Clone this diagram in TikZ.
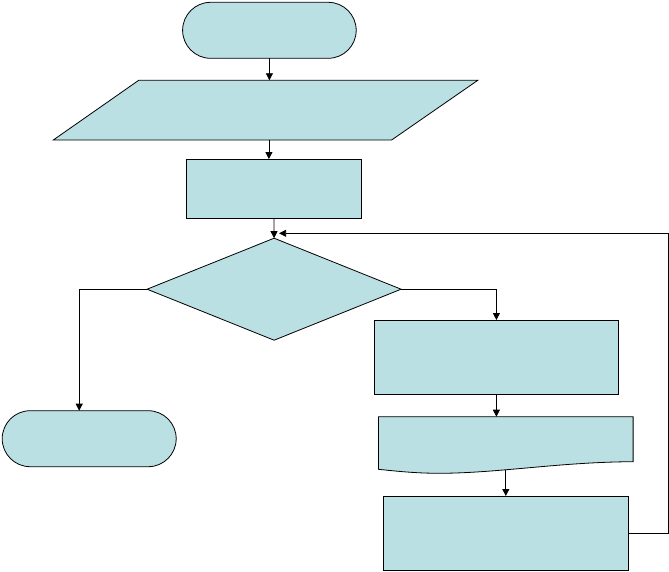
\documentclass[tikz,border=0pt]{standalone}
\usetikzlibrary{shapes.geometric,shapes.misc,arrows.meta}
\definecolor{boxfill}{RGB}{187,224,227}
\tikzset{
  base/.style={draw=black, fill=boxfill, line width=0.8pt, inner sep=0pt, outer sep=0pt},
  terminal/.style={base, rounded rectangle},
  procbox/.style={base, rectangle},
  decbox/.style={base, diamond},
  anchorbox/.style={rectangle, inner sep=0pt, outer sep=0pt},
  shapeline/.style={draw=black, fill=boxfill, line width=0.8pt},
  arr/.style={line width=0.8pt, -{Triangle[length=7pt,width=7pt]}},
  plainline/.style={line width=0.8pt}
}
\begin{document}
\begin{tikzpicture}[x=1pt,y=-1pt]
\useasboundingbox (0,0) rectangle (669,571);
\node[terminal, minimum width=173.6pt, minimum height=56pt] (start) at (269.4,30.3) {};
% parallelogram
\node[anchorbox, minimum width=424.5pt, minimum height=59.7pt] (para) at (265.55,110.15) {};
\path[shapeline] (138.7,80.3) -- (477.8,80.3) -- (391.6,140) -- (53.3,140) -- cycle;
\node[procbox, minimum width=175.8pt, minimum height=59.7pt] (p1) at (273.9,188.9) {};
\node[decbox, minimum width=254pt, minimum height=102pt] (dec) at (274.1,289.2) {};
\node[terminal, minimum width=174pt, minimum height=56pt] (end) at (89.2,438.7) {};
\node[procbox, minimum width=244.5pt, minimum height=74pt] (p2) at (496.4,357) {};
% document shape
\node[anchorbox, minimum width=254.7pt, minimum height=52.6pt] (doc) at (505.75,443) {};
\path[shapeline] (doc.north west) -- (doc.north east) -- (633.1,461.7)
  .. controls (560,462) and (500,473) .. (440,473.3)
  .. controls (415,473.3) and (395,471) .. (doc.south west) -- cycle;
\node[procbox, minimum width=244.5pt, minimum height=74pt] (p3) at (505.8,533) {};
\coordinate (join) at (274.1,233.3);
% connectors
\draw[arr] (start.south) -- (start.south |- para.north);
\draw[arr] ([xshift=-5pt]p1.north |- para.south) -- ([xshift=-5pt]p1.north);
\draw[arr] (p1.south) -- (dec.north);
\draw[arr] (dec.west) -| ([xshift=-10pt]end.north);
\draw[arr] (dec.east) -| (p2.north);
\draw[arr] (p2.south) -- (p2.south |- doc.north);
\draw[arr] (p3.north |- 0,470) -- (p3.north);
\draw[arr] (p3.east) -- ++(40,0) |- ([xshift=5pt]join);
\end{tikzpicture}
\end{document}
